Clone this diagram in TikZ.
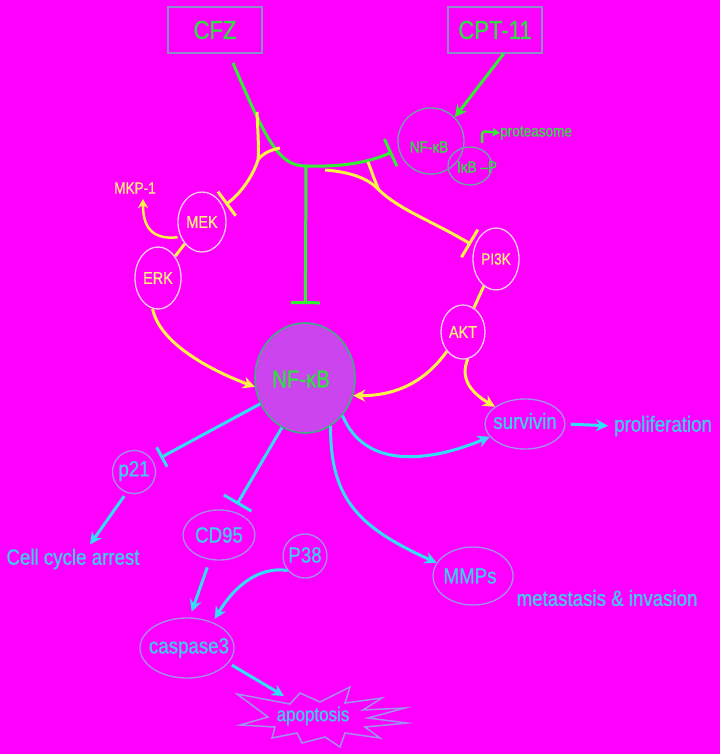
\documentclass[tikz,border=0pt]{standalone}
\usepackage{fontspec}
\setmainfont{Liberation Sans}[FakeStretch=0.85,FakeBold=0.8]
\usetikzlibrary{arrows.meta,shapes.geometric,calc}
\definecolor{cbg}{HTML}{FF00FF}
\definecolor{cgreen}{HTML}{33EE33}
\definecolor{cgtext}{HTML}{33DD44}
\definecolor{cbox}{HTML}{8C8CC8}
\definecolor{cyel}{HTML}{FFF04A}
\definecolor{cytext}{HTML}{FFF07A}
\definecolor{cpink}{HTML}{FFCCEE}
\definecolor{ccyan}{HTML}{33DDF5}
\definecolor{cctext}{HTML}{40CCF0}
\definecolor{clav}{HTML}{A090F0}
\definecolor{cnffill}{HTML}{CC44EE}
\definecolor{cnfedge}{HTML}{44AA88}
\definecolor{csmedge}{HTML}{66A8A0}
\begin{document}
\begin{tikzpicture}[x=1pt,y=-1pt,
  gtxt/.style={text=cgtext,inner sep=0pt,font=\fontsize{#1pt}{#1pt}\selectfont},
  ytxt/.style={text=cytext,inner sep=0pt,font=\fontsize{#1pt}{#1pt}\selectfont},
  ctxt/.style={text=cctext,inner sep=0pt,font=\fontsize{#1pt}{#1pt}\selectfont},
  drugbox/.style={draw=cbox,line width=1.6pt,minimum width=94pt,minimum height=46pt,inner sep=0pt,text=cgtext,font=\fontsize{26pt}{26pt}\selectfont},
  ycell/.style={ellipse,draw=cpink,line width=1.3pt,inner sep=0pt},
  ccell/.style={ellipse,draw=clav,line width=1.3pt,inner sep=0pt},
  gcell/.style={ellipse,draw=csmedge,line width=1.3pt,inner sep=0pt},
  gpath/.style={draw=cgreen,line width=3pt},
  garr/.style={gpath,-{Stealth[length=12pt,width=12pt]}},
  ginh/.style={gpath,-{Bar[width=#1]}},
  ypath/.style={draw=cyel,line width=3pt},
  yarr/.style={ypath,-{Stealth[length=12pt,width=12pt]}},
  yinh/.style={ypath,-{Bar[width=#1]}},
  cpath/.style={draw=ccyan,line width=3pt},
  carr/.style={cpath,-{Stealth[length=12pt,width=12pt]}},
  cinh/.style={cpath,-{Bar[width=#1]}}]
\useasboundingbox (0,0) rectangle (720,754);
\fill[cbg] (0,0) rectangle (720,754);

% drugs
\node[drugbox] (cfz) at (215,30) {CFZ};
\node[drugbox] (cpt) at (495,30) {CPT-11};

% top complex
\node[gcell,minimum width=66pt,minimum height=66pt] (nfs) at (431,141) {};
\node[gtxt=16] (nfst) at (429,147) {NF-κB};
\node[gcell,minimum width=44pt,minimum height=38pt] (ikb) at (470,166) {};
\node[gtxt=16] (ikbt) at (477,167) {IκB –P};
\node[gtxt=16,anchor=west] (prot) at (500,133) {proteasome};
\coordinate (pstart) at (482,143);
\draw[gpath,line width=2.5pt,-{Stealth[length=8pt,width=9pt]}] (pstart) -- (482,137) .. controls (482,131) .. (prot.west);

% kinases
\node[ycell,minimum width=48pt,minimum height=60pt] (mek) at (202,222) {};
\node[ytxt=17] (mekt) at (202,222) {MEK};
\node[ycell,minimum width=46pt,minimum height=62pt] (erk) at (158,278) {};
\node[ytxt=17] (erkt) at (158,278) {ERK};
\node[ycell,minimum width=46pt,minimum height=62pt] (pi3k) at (496,259) {};
\node[ytxt=16] (pi3kt) at (496,259) {PI3K};
\node[ycell,minimum width=44pt,minimum height=54pt] (akt) at (463,332) {};
\node[ytxt=17] (aktt) at (463,332) {AKT};
\node[ytxt=16] (mkp) at (135,188) {MKP-1};
\coordinate (mkptip) at (143,199);

% central NF-kB
\node[ellipse,draw=cnfedge,fill=cnffill,line width=1.6pt,minimum width=100pt,minimum height=110pt,inner sep=0pt] (nf) at (305,378) {};
\node[gtxt=24] (nft) at (301,379) {NF-κB};

% downstream
\node[ccell,minimum width=43pt,minimum height=43pt] (p21) at (134,472) {};
\node[ctxt=22] (p21t) at (134,471) {p21};
\node[ctxt=22] (cca) at (73,559) {Cell cycle arrest};
\node[ccell,minimum width=72pt,minimum height=50pt] (cd95) at (219,535) {};
\node[ctxt=22] (cd95t) at (219,535) {CD95};
\node[ccell,minimum width=44pt,minimum height=44pt] (p38) at (305,556) {};
\node[ctxt=22] (p38t) at (305,555) {P38};
\node[ccell,minimum width=94pt,minimum height=60pt] (casp) at (187,648) {};
\node[ctxt=22] (caspt) at (189,648) {caspase3};
\node[ccell,minimum width=80pt,minimum height=50pt] (surv) at (525,424) {};
\node[ctxt=22] (survt) at (525,421) {survivin};
\node[ctxt=22,anchor=west] (prol) at (614,426) {proliferation};
\node[ccell,minimum width=80pt,minimum height=58pt] (mmp) at (473,576) {};
\node[ctxt=22] (mmpt) at (470,576) {MMPs};
\node[ctxt=22] (meta) at (607,598) {metastasis \& invasion};

% apoptosis star
\draw[draw=clav,line width=1.5pt,line join=miter]
  (237,694) -- (290,704) -- (300,693) -- (320,702) -- (350,687) -- (345,703) -- (382,698) -- (363,710)
  -- (405,708) -- (368,718) -- (407,723) -- (365,727) -- (380,738) -- (345,733) -- (340,747) -- (325,737)
  -- (302,743) -- (297,733) -- (272,738) -- (275,727) -- (240,725) -- (268,717) -- cycle;
\node[ctxt=20] (apo) at (313,716) {apoptosis};
\coordinate (apotip) at (284,696);

% green connectors
\coordinate (g0) at (233,63);
\coordinate (gb) at (306,166);
\coordinate (gend) at (392,152);
\draw[ginh=30pt] (g0) .. controls (268,145) and (280,166) .. (gb) .. controls (340,167) and (368,163) .. (gend);
\draw[ginh=29pt,shorten >=18pt] (gb) -- (nf);
\draw[garr] (cpt.-70) -- (nfs.45);

% yellow connectors
\coordinate (y1) at (257,112);
\coordinate (y2) at (280,148);
\coordinate (yj) at (258,160);
\draw[ypath] (y1) .. controls (258,135) and (259,150) .. (yj);
\draw[ypath] (y2) .. controls (270,150) and (262,154) .. (yj);
\draw[yinh=30pt,shorten >=3pt] (yj) .. controls (252,178) and (240,194) .. (mek);
\coordinate (r1) at (325,170);
\coordinate (r2) at (368,162);
\coordinate (rj) at (379,190);
\draw[ypath] (r1) .. controls (350,172) and (368,178) .. (rj);
\draw[ypath] (r2) .. controls (372,172) and (375,182) .. (rj);
\draw[yinh=32pt,shorten >=4pt] (rj) .. controls (400,210) and (430,220) .. (pi3k);
\draw[ypath] (mek) -- (erk);
\draw[ypath] (pi3k) -- (akt);
\draw[yarr,line width=2.5pt,-{Stealth[length=9pt,width=10pt]},shorten <=3pt] (mek.215) .. controls (150,240) and (143,225) .. (mkptip);
\draw[yarr] (erk.-100) .. controls (160,345) and (215,372) .. (nf.190);
\draw[yarr] (akt.-130) .. controls (428,378) and (400,396) .. (nf.-20);
\draw[yarr] (akt.-80) .. controls (460,378) and (470,392) .. (surv.150);

% cyan connectors
\draw[cinh=22pt,shorten >=8pt] (nf.210) -- (p21);
\draw[cinh=32pt,shorten >=8pt] (nf.245) -- (cd95);
\draw[carr,shorten <=4pt] (p21.-110) -- ($(cca.north)+(17,-4)$);
\draw[carr,shorten <=8pt,shorten >=6pt] (cd95.-110) -- (casp.85);
\draw[carr,shorten >=4pt] (p38.220) .. controls (260,566) and (235,585) .. (casp.45);
\draw[carr,shorten <=4pt] (casp.-20) -- (apotip);
\draw[carr] (nf.-45) .. controls (365,470) and (430,462) .. (surv.200);
\draw[carr] (nf.-62) .. controls (330,500) and (360,528) .. (mmp.160);
\draw[carr,shorten <=5pt,shorten >=6pt] (surv.east) -- (prol.west);
\end{tikzpicture}
\end{document}
